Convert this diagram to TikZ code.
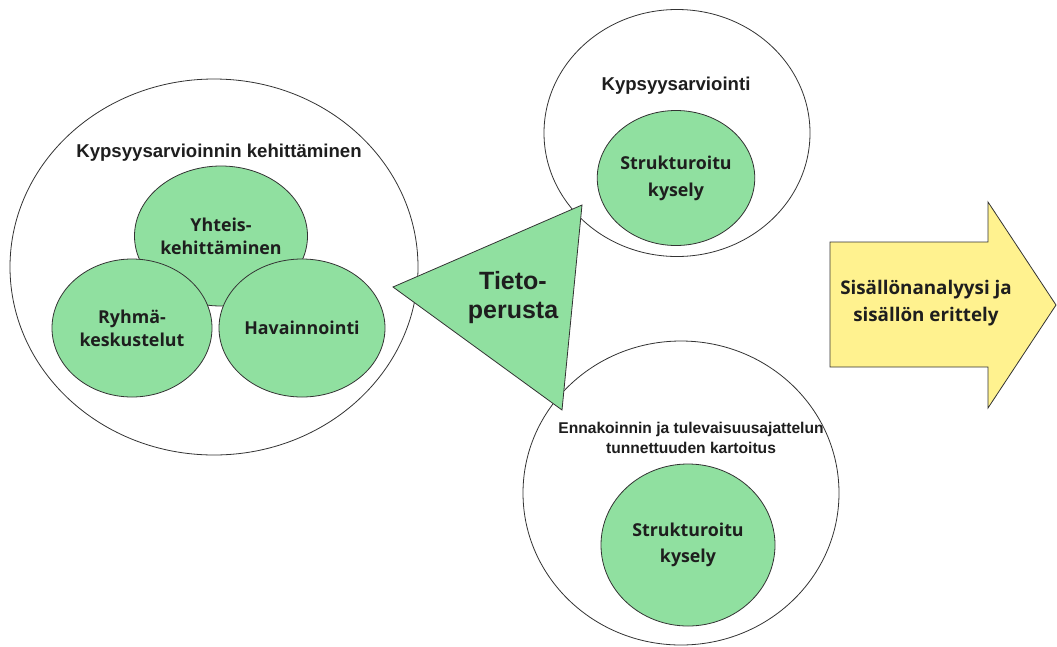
\documentclass[tikz,border=0pt]{standalone}
\usepackage{fontspec}
\setmainfont{Open Sans}
\newfontfamily\headfont{Liberation Sans}
\usetikzlibrary{shapes.geometric}

\definecolor{leaf}{HTML}{90E0A0}
\definecolor{sun}{HTML}{FFF28F}
\definecolor{ink}{HTML}{333333}
\definecolor{txt}{HTML}{1E1E1E}

\begin{document}
\begin{tikzpicture}[x=1pt,y=-1pt,
  frame/.style={ellipse, draw=ink, line width=0.8pt, fill=white, inner sep=0pt},
  blob/.style={ellipse, draw=ink, line width=0.8pt, fill=leaf, inner sep=0pt,
    align=center, text=txt, font=\fontsize{17.8}{23}\selectfont\bfseries},
  head/.style={text=txt, align=center, font=\headfont\fontsize{18.6}{22}\selectfont\bfseries},
  smallhead/.style={text=txt, align=center, font=\headfont\fontsize{15.6}{20}\selectfont\bfseries},
  outline/.style={draw=ink, line width=0.8pt, line join=miter}]
\useasboundingbox (0,0) rectangle (1057,646);

% development of the maturity assessment
\node[frame, minimum width=408pt, minimum height=376pt] (dev) at (214,267) {};
\node[head] (devtitle) at (219,153) {Kypsyysarvioinnin kehittäminen};
\node[blob, minimum width=173pt, minimum height=140pt] (co) at (221,236) {Yhteis-\\kehittäminen};
\node[blob, minimum width=160pt, minimum height=138pt] (grp) at (132,328) {Ryhmä-\\keskustelut};
\node[blob, minimum width=166pt, minimum height=138pt] (obs) at (302,328) {Havainnointi};

% maturity assessment
\node[frame, minimum width=266pt, minimum height=247pt] (mat) at (677,133) {};
\node[head] (mattitle) at (676,86) {Kypsyysarviointi};
\node[blob, minimum width=157pt, minimum height=135pt, font=\fontsize{17.8}{27}\selectfont\bfseries] (q1) at (676,178) {Strukturoitu\\kysely};

% foresight survey
\node[frame, minimum width=316pt, minimum height=304pt] (fore) at (681,493) {};
\node[smallhead] (foretitle) at (691,438) {Ennakoinnin ja tulevaisuusajattelun\\tunnettuuden kartoitus};
\node[blob, minimum width=174pt, minimum height=162pt, font=\fontsize{17.8}{26}\selectfont\bfseries] (q2) at (688,545) {Strukturoitu\\kysely};

% knowledge base triangle
\coordinate (tl) at (393,287);
\coordinate (tt) at (582,205);
\coordinate (tb) at (562,410);
\draw[outline, fill=leaf] (tl) -- (tt) -- (tb) -- cycle;
\node[text=txt, align=center, font=\headfont\fontsize{25}{29}\selectfont\bfseries] (base) at (513,298) {Tieto-\\perusta};

% analysis arrow
\coordinate (a1) at (830,242);
\coordinate (a2) at (988,242);
\coordinate (a3) at (988,202);
\coordinate (a4) at (1056,305);
\coordinate (a5) at (988,408);
\coordinate (a6) at (988,367);
\coordinate (a7) at (830,367);
\draw[outline, fill=sun] (a1) -- (a2) -- (a3) -- (a4) -- (a5) -- (a6) -- (a7) -- cycle;
\node[text=txt, align=center, font=\fontsize{18.8}{27}\selectfont\bfseries] (ana) at (926,303) {Sisällönanalyysi ja\\sisällön erittely};
\end{tikzpicture}
\end{document}
